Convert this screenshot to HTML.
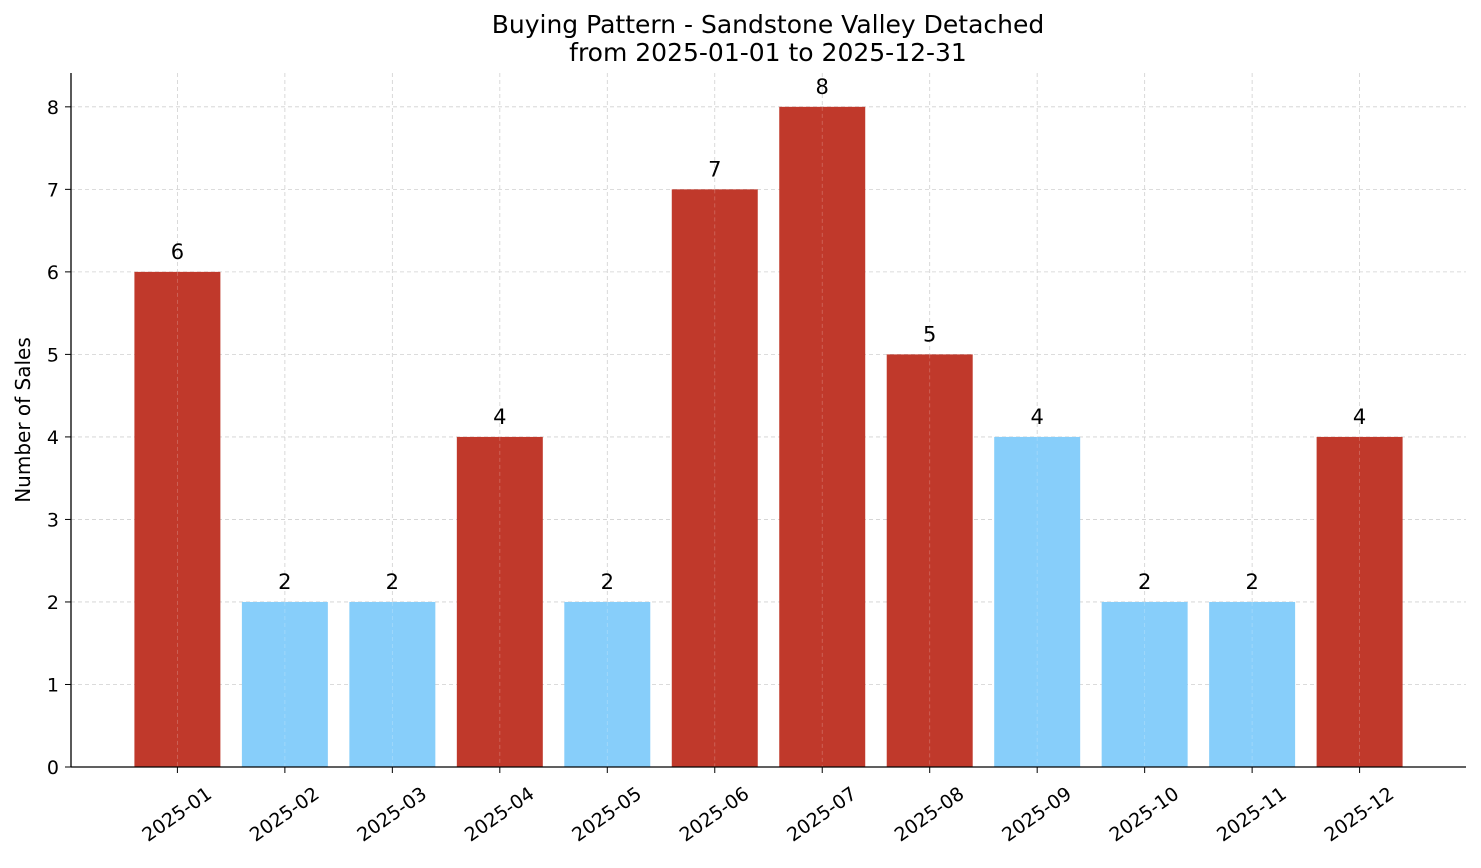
<!DOCTYPE html>
<html><head><meta charset="utf-8"><style>
body{margin:0;background:#fff;}
svg text{font-family:"DejaVu Sans","Liberation Sans",sans-serif;fill:#000;}
</style></head><body>
<svg id="chart" width="1481" height="863" xmlns="http://www.w3.org/2000/svg">
<text x="768" y="33" text-anchor="middle" font-size="25">Buying Pattern - Sandstone Valley Detached</text>
<text x="768" y="61" text-anchor="middle" font-size="25">from 2025-01-01 to 2025-12-31</text>
<text transform="translate(30,420) rotate(-90)" text-anchor="middle" font-size="20">Number of Sales</text>
<g id="grid"></g><g id="bars"></g><g id="labels"></g><g id="axes"></g>
</svg>
<script>
const categories=["2025-01","2025-02","2025-03","2025-04","2025-05","2025-06","2025-07","2025-08","2025-09","2025-10","2025-11","2025-12"];
const sales=[6,2,2,4,2,7,8,5,4,2,2,4];
const highlighted=[true,false,false,true,false,true,true,true,false,false,false,true];
const yTicks=[0,1,2,3,4,5,6,7,8];
const L=71,R=1466,T=73,B=767,yMax=8.41,xMin=-0.99,xMax=11.99;
const xs=i=>L+(i-xMin)/(xMax-xMin)*(R-L);
const ys=v=>B-v/yMax*(B-T);
const NS="http://www.w3.org/2000/svg";
function mk(tag,attrs,parent,text){const e=document.createElementNS(NS,tag);for(const k in attrs)e.setAttribute(k,attrs[k]);if(text!==undefined)e.textContent=text;document.getElementById(parent).appendChild(e);return e;}
yTicks.forEach(t=>{
 const g=mk('line',{x1:L,x2:R,y1:ys(t),y2:ys(t),stroke:'#d0d0d0','stroke-dasharray':'4,3','stroke-width':0.8},'grid');
 
 
 const tk=mk('line',{x1:L-6,x2:L,y1:ys(t),y2:ys(t),stroke:'#000','stroke-width':1},'axes');
 
 
 const lb=mk('text',{x:L-12,y:ys(t)+7,'text-anchor':'end','font-size':19},'axes',t);
 
 
});
const bw=0.8*(xs(1)-xs(0));
categories.forEach((c,i)=>{
 const x=xs(i);
 const g=mk('line',{x1:x,x2:x,y1:T,y2:B,stroke:'#d0d0d0','stroke-dasharray':'4,3','stroke-width':0.8},'grid');
 
 
 const r=mk('rect',{x:x-bw/2,y:ys(sales[i]),width:bw,height:B-ys(sales[i]),fill:highlighted[i]?'#c0392b':'#87cefa'},'bars');
 
 
 const og=mk('line',{x1:x,x2:x,y1:ys(sales[i]),y2:B,stroke:'#ffffff','stroke-opacity':0.25,'stroke-dasharray':'4,3','stroke-width':0.8},'labels');
 
 
 const v=mk('text',{x:x,y:ys(sales[i])-13,'text-anchor':'middle','font-size':21},'labels',sales[i]);
 
 
 const tk=mk('line',{x1:x,x2:x,y1:B,y2:B+6,stroke:'#000','stroke-width':1},'axes');
 
 
 const lb=mk('text',{transform:`translate(${x},${B+48}) rotate(-35)`,'text-anchor':'middle','dominant-baseline':'middle','font-size':19},'axes',c);
 
 
});
const ax=mk('line',{x1:L,x2:L,y1:T,y2:B,stroke:'#000','stroke-width':1.3},'axes');


const bx=mk('line',{x1:L,x2:R,y1:B,y2:B,stroke:'#000','stroke-width':1.3},'axes');


</script>
</body></html>
